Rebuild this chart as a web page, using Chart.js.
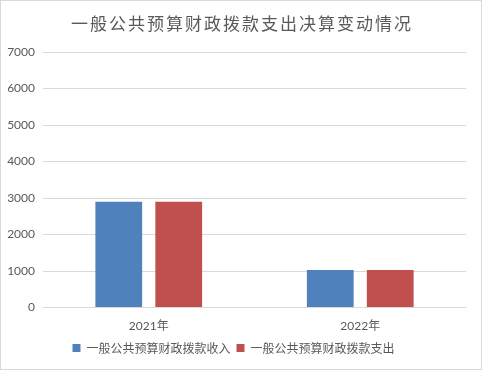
<!DOCTYPE html>
<html>
<head>
<meta charset="utf-8">
<script src="https://cdn.jsdelivr.net/npm/chart.js@4"></script>
<style>
  body { margin: 0; background: #fff; }
  #marco { width: 482px; height: 370px; box-sizing: border-box; border: 1px solid #d9d9d9; }
</style>
</head>
<body>
<div id="marco"><canvas id="grafica" width="480" height="368"></canvas></div>
<script>
// Categorías del eje X
const anios = ["2021年", "2022年"];
// Valores de cada serie
const ingresos = [2900, 1030];
const gastos = [2900, 1030];
// Marcas del eje Y
const maxY = 7000;
const pasoY = 1000;
const titulo = "一般公共预算财政拨款支出决算变动情况";

const gris = "#595959";
Chart.defaults.font.family = 'Lato, "Noto Sans CJK SC", sans-serif';
Chart.defaults.color = gris;

// Título dibujado a mano para poder separar las letras
const tituloEspaciado = {
    id: "tituloEspaciado",
    afterDraw(chart) {
        const ctx = chart.ctx;
        ctx.save();
        ctx.font = '17px "Noto Sans CJK SC"';
        ctx.fillStyle = gris;
        ctx.letterSpacing = "2px";
        ctx.textAlign = "center";
        ctx.textBaseline = "middle";
        ctx.fillText(titulo, chart.width / 2 + 1, 23);
        ctx.restore();
    }
};

new Chart(document.querySelector("#grafica"), {
    type: "bar",
    data: {
        labels: anios,
        datasets: [
            {
                label: "一般公共预算财政拨款收入",
                data: ingresos,
                backgroundColor: "#4f81bd",
                barPercentage: 0.78,
                categoryPercentage: 0.567,
            },
            {
                label: "一般公共预算财政拨款支出",
                data: gastos,
                backgroundColor: "#c0504d",
                barPercentage: 0.78,
                categoryPercentage: 0.567,
            },
        ]
    },
    plugins: [tituloEspaciado],
    options: {
        responsive: false,
        animation: false,
        layout: { padding: { right: 15, top: 51, bottom: 5 } },
        plugins: {
            title: { display: false },
            legend: {
                position: "bottom",
                labels: {
                    boxWidth: 8,
                    boxHeight: 8,
                    padding: 6,
                    color: gris,
                    font: { size: 12, family: '"Noto Sans CJK SC"' },
                },
            },
            tooltip: { enabled: false },
        },
        scales: {
            x: {
                grid: { display: false },
                border: { display: false },
                ticks: { color: gris, font: { size: 12 }, padding: 3 },
            },
            y: {
                min: 0,
                max: maxY,
                ticks: {
                    stepSize: pasoY,
                    color: gris,
                    font: { size: 12 },
                    padding: 8,
                    callback: (v) => String(v),
                },
                grid: { color: "#d9d9d9", drawTicks: false },
                border: { display: false },
                afterFit: (escala) => { escala.width = 42; },
            },
        },
    }
});
</script>
</body>
</html>
